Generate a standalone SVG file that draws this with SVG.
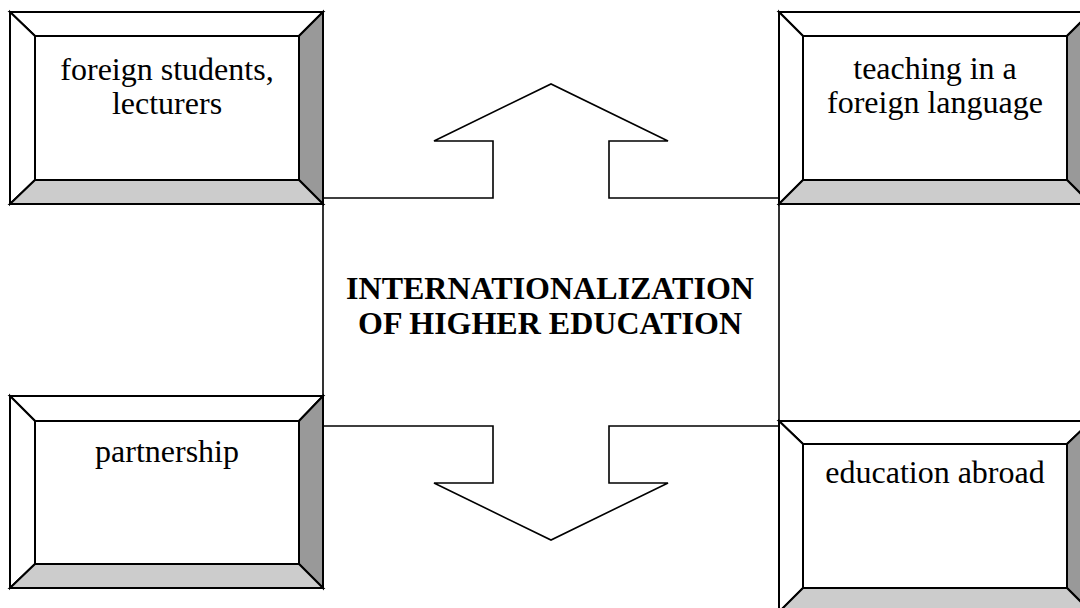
<svg xmlns="http://www.w3.org/2000/svg" width="1080" height="608" viewBox="0 0 1080 608">
<style>
.ln{stroke:#000;stroke-width:1.6;stroke-linejoin:miter}
.bx{stroke:#000;stroke-width:2;stroke-linejoin:miter}
.w{fill:#fff}
.d{fill:#999999}
.l{fill:#cccccc}
.t{font-family:"Liberation Serif","Times New Roman",serif;font-size:32px;fill:#000;text-anchor:middle}
.b{font-weight:bold}
</style>
<rect width="1080" height="608" fill="#fff"/>
<g id="connectors">
<polygon class="ln" fill="#fff" points="323,198 493,198 493,141 434,141 551,84 668,141 609,141 609,198 779,198 779,426 609,426 609,483 668,483 551,540 434,483 493,483 493,426 323,426"/>
</g>
<g id="center">
<text class="t b" x="550" y="299">INTERNATIONALIZATION</text>
<text class="t b" x="550" y="334">OF HIGHER EDUCATION</text>
</g>
<g id="box-foreign-students">
<polygon class="bx w" points="10,12 323,12 299,36 35,36"/>
<polygon class="bx w" points="10,12 35,36 35,180 10,204"/>
<polygon class="bx d" points="323,12 323,204 299,180 299,36"/>
<polygon class="bx l" points="10,204 35,180 299,180 323,204"/>
<rect class="bx w" x="35" y="36" width="264" height="144"/>
<text class="t" x="167" y="80">foreign students,</text>
<text class="t" x="167" y="114">lecturers</text>
</g>
<g id="box-teaching">
<polygon class="bx w" points="779,12 1091,12 1067,36 803,36"/>
<polygon class="bx w" points="779,12 803,36 803,180 779,204"/>
<polygon class="bx d" points="1091,12 1091,204 1067,180 1067,36"/>
<polygon class="bx l" points="779,204 803,180 1067,180 1091,204"/>
<rect class="bx w" x="803" y="36" width="264" height="144"/>
<text class="t" x="935" y="79">teaching in a</text>
<text class="t" x="935" y="113">foreign language</text>
</g>
<g id="box-partnership">
<polygon class="bx w" points="10,396 323,396 299,421 35,421"/>
<polygon class="bx w" points="10,396 35,421 35,564 10,588"/>
<polygon class="bx d" points="323,396 323,588 299,564 299,421"/>
<polygon class="bx l" points="10,588 35,564 299,564 323,588"/>
<rect class="bx w" x="35" y="421" width="264" height="143"/>
<text class="t" x="167" y="462">partnership</text>
</g>
<g id="box-education-abroad">
<polygon class="bx w" points="779,421 1091,421 1067,444 803,444"/>
<polygon class="bx w" points="779,421 803,444 803,588 779,612"/>
<polygon class="bx d" points="1091,421 1091,612 1067,588 1067,444"/>
<polygon class="bx l" points="779,612 803,588 1067,588 1091,612"/>
<rect class="bx w" x="803" y="444" width="264" height="144"/>
<text class="t" x="935" y="483">education abroad</text>
</g>
</svg>
